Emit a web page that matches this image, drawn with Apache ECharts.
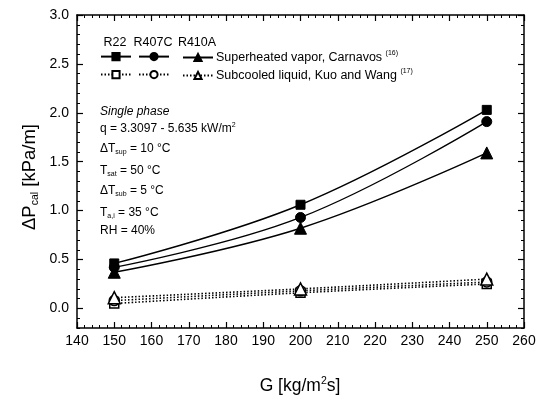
<!DOCTYPE html>
<html>
<head>
<meta charset="utf-8">
<script src="https://cdn.jsdelivr.net/npm/echarts@6/dist/echarts.min.js"></script>
<style>
html,body{margin:0;padding:0;background:#fff;}
#chart{width:539px;height:401px;}
</style>
</head>
<body>
<div id="chart"></div>
<script>
// ---- data ----
const G = [150, 200, 250];
const r22Sup   = [0.46, 1.06, 2.03];
const r407cSup = [0.42, 0.93, 1.91];
const r410aSup = [0.37, 0.82, 1.59];
const r22Sub   = [0.05, 0.16, 0.25];
const r407cSub = [0.08, 0.18, 0.27];
const r410aSub = [0.11, 0.20, 0.30];
const yTicks = [0.0, 0.5, 1.0, 1.5, 2.0, 2.5, 3.0];
const xMin = 140, xMax = 260, xStep = 10;
const yMin = -0.2, yMax = 3.0;
const refNames = ['R22', 'R407C', 'R410A'];
const supLabel = 'Superheated vapor, Carnavos ';
const supRef = '(16)';
const subLabel = 'Subcooled liquid, Kuo and Wang ';
const subRef = '(17)';

const yMinor = [];
for (let i = -2; i <= 30; i++) yMinor.push(Math.round(i) / 10);

const FONT = '"Liberation Sans", Arial, sans-serif';
const chart = echarts.init(document.getElementById('chart'), null, {renderer: 'canvas'});

function pairs(ys) { return G.map((g, i) => [g, ys[i]]); }

const solid = {color: '#000', width: 1.4, type: 'solid'};
const dotted = {color: '#000', width: 1.6, type: [1.5, 2]};

function mk(name, ys, symbol, size, filled) {
  return {
    name: name, type: 'line', data: pairs(ys), smooth: 0.4,
    symbol: symbol, symbolSize: size, showSymbol: true,
    lineStyle: filled ? solid : dotted,
    itemStyle: filled ? {color: '#000', borderColor: '#000', borderWidth: 1}
                      : {color: '#fff', borderColor: '#000', borderWidth: 1.5},
    z: filled ? 3 : 2, animation: false
  };
}

const series = [
  mk('R22 sup', r22Sup, 'rect', 9, true),
  mk('R407C sup', r407cSup, 'circle', 10, true),
  mk('R410A sup', r410aSup, 'triangle', 12, true),
  mk('R22 sub', r22Sub, 'rect', 9, false),
  mk('R407C sub', r407cSub, 'circle', 10, false),
  mk('R410A sub', r410aSub, 'triangle', 12, false)
];

function leg(name, left, top, text) {
  return {
    data: [name], left: left, top: top, padding: 0, itemWidth: 30, itemHeight: 9, itemGap: 0,
    selectedMode: false,
    formatter: function () { return text; },
    textStyle: {fontFamily: FONT, fontSize: 12.5, color: '#000', padding: [0, 0, 0, -2],
      rich: {s: {fontSize: 7, fontFamily: FONT, color: '#000', padding: [0, 0, 8, 0]}}}
  };
}

const legends = [
  leg('R22 sup', 100, 52, ''),
  leg('R407C sup', 138, 52, ''),
  leg('R410A sup', 182, 50, supLabel + '{s|' + supRef + '}'),
  leg('R22 sub', 100, 70, ''),
  leg('R407C sub', 138, 70, ''),
  leg('R410A sub', 182, 68, subLabel + '{s|' + subRef + '}')
];

const axisLine = {show: true, onZero: false, lineStyle: {color: '#000', width: 1.5}};
const labelStyle = {fontFamily: FONT, fontSize: 14, color: '#000'};

const option = {
  backgroundColor: '#fff',
  animation: false,
  grid: {left: 77, right: 15, top: 15, bottom: 73, containLabel: false},
  legend: legends,
  xAxis: [
    {type: 'value', min: xMin, max: xMax, interval: xStep, position: 'bottom',
      axisLine: axisLine, splitLine: {show: false},
      axisTick: {show: true, inside: true, length: 6, lineStyle: {color: '#000', width: 1.2}},
      minorTick: {show: true, splitNumber: 5, length: 3, lineStyle: {color: '#000', width: 1}},
      axisLabel: Object.assign({margin: 6}, labelStyle)},
    {type: 'value', min: xMin, max: xMax, interval: xStep, position: 'top',
      axisLine: axisLine, splitLine: {show: false},
      axisTick: {show: true, inside: true, length: 6, lineStyle: {color: '#000', width: 1.2}},
      minorTick: {show: true, splitNumber: 5, length: 3, lineStyle: {color: '#000', width: 1}},
      axisLabel: {show: false}}
  ],
  yAxis: [
    {type: 'value', min: yMin, max: yMax, position: 'left',
      axisLine: axisLine, splitLine: {show: false},
      axisTick: {show: true, inside: true, length: 6, customValues: yTicks, lineStyle: {color: '#000', width: 1.2}},
      axisLabel: Object.assign({margin: 8, customValues: yTicks, formatter: v => v.toFixed(1)}, labelStyle)},
    {type: 'value', min: yMin, max: yMax, position: 'left',
      axisLine: {show: false}, splitLine: {show: false},
      axisTick: {show: true, inside: true, length: 3, customValues: yMinor, lineStyle: {color: '#000', width: 1}},
      axisLabel: {show: false}},
    {type: 'value', min: yMin, max: yMax, position: 'right',
      axisLine: axisLine, splitLine: {show: false},
      axisTick: {show: true, inside: true, length: 6, customValues: yTicks, lineStyle: {color: '#000', width: 1.2}},
      axisLabel: {show: false}},
    {type: 'value', min: yMin, max: yMax, position: 'right',
      axisLine: {show: false}, splitLine: {show: false},
      axisTick: {show: true, inside: true, length: 3, customValues: yMinor, lineStyle: {color: '#000', width: 1}},
      axisLabel: {show: false}}
  ],
  series: series,
  graphic: {elements: []}
};

const txtRich = {
  sub: {fontFamily: FONT, fontSize: 7, color: '#000', padding: [6, 0, 0, 0]},
  sup: {fontFamily: FONT, fontSize: 7, color: '#000', padding: [0, 0, 7, 0]}
};
function txt(x, y, text, extra) {
  return {type: 'text', silent: true, z: 10,
    style: Object.assign({x: x, y: y, text: text, font: '12px ' + FONT, fill: '#000',
      verticalAlign: 'middle', align: 'left', rich: txtRich}, extra || {})};
}
const els = option.graphic.elements;
// column headers
els.push(txt(115, 43, refNames[0], {align: 'center', font: '12.5px ' + FONT}));
els.push(txt(153, 43, refNames[1], {align: 'center', font: '12.5px ' + FONT}));
els.push(txt(197, 43, refNames[2], {align: 'center', font: '12.5px ' + FONT}));
// condition block
els.push(txt(100, 112, 'Single phase', {font: 'italic 12px ' + FONT}));
els.push(txt(100, 129, 'q = 3.3097 - 5.635 kW/m{sup|2}'));
els.push(txt(100, 149, '\u0394T{sub|sup} = 10 \u00b0C'));
els.push(txt(100, 171, 'T{sub|sat} = 50 \u00b0C'));
els.push(txt(100, 191, '\u0394T{sub|sub} = 5 \u00b0C'));
els.push(txt(100, 213, 'T{sub|a,i} = 35 \u00b0C'));
els.push(txt(100, 231, 'RH = 40%'));
// axis titles
const titleRich = {
  sub: {fontFamily: FONT, fontSize: 10.5, color: '#000', padding: [10, 0, 0, 0]},
  sup: {fontFamily: FONT, fontSize: 10.5, color: '#000', padding: [0, 0, 9, 0]}
};
els.push({type: 'text', silent: true, z: 10, x: 30, y: 177, rotation: Math.PI / 2,
  style: {x: 0, y: 0, text: '\u0394P{sub|cal} [kPa/m]', font: '18.5px ' + FONT, fill: '#000',
    align: 'center', verticalAlign: 'middle', rich: titleRich}});
els.push({type: 'text', silent: true, z: 10,
  style: {x: 300, y: 386, text: 'G [kg/m{sup|2}s]', font: '17.5px ' + FONT, fill: '#000',
    align: 'center', verticalAlign: 'middle', rich: titleRich}});

chart.setOption(option);
</script>
</body>
</html>
